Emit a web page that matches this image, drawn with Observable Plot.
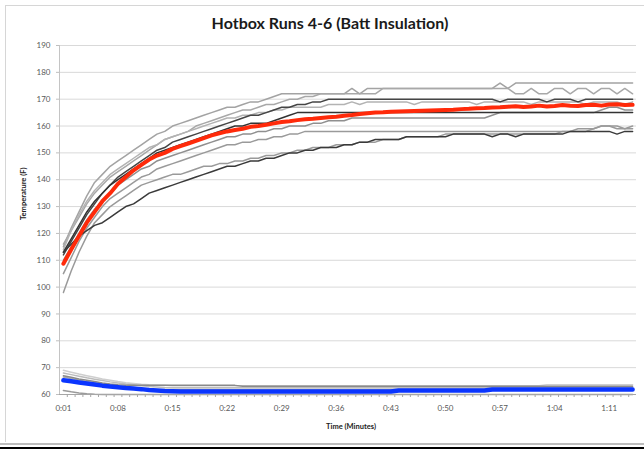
<!DOCTYPE html>
<html><head><meta charset="utf-8">
<script src="https://cdn.jsdelivr.net/npm/d3@7"></script>
<script src="https://cdn.jsdelivr.net/npm/@observablehq/plot@0.6"></script>
<style>
html,body{margin:0;padding:0;background:#fff;overflow:hidden;width:644px;height:449px;}
#wrap{position:relative;width:644px;height:449px;overflow:hidden;font-family:Lato,"Open Sans",sans-serif;}
#ftop{position:absolute;left:5px;top:5px;width:639px;height:1px;background:#d6d6d6;}
#fleft{position:absolute;left:5px;top:5px;width:1px;height:437px;background:#d6d6d6;}
#title{position:absolute;left:0;width:660px;top:13px;text-align:center;font-weight:bold;font-size:16px;color:#1a1a1a;font-family:Lato,"Open Sans",sans-serif;}
#rule1{position:absolute;left:0;top:443px;width:644px;height:2px;background:#bdbdbd}
#rule2{position:absolute;left:0;top:447px;width:644px;height:2px;background:#000}
#chart{position:absolute;left:0;top:0;width:644px;height:449px;overflow:hidden;}
#chart svg{display:block;}
#cover{position:absolute;left:637px;top:7px;width:7px;height:435px;background:#fff;z-index:5;}
</style>
</head><body>
<div id="wrap"><div id="ftop"></div><div id="fleft"></div><div id="chart"></div><div id="title">Hotbox Runs 4-6 (Batt Insulation)</div><div id="rule1"></div><div id="rule2"></div><div id="cover"></div></div>
<script>
// categories: minutes 1..74
const minutes = [1,2,3,4,5,6,7,8,9,10,11,12,13,14,15,16,17,18,19,20,21,22,23,24,25,26,27,28,29,30,31,32,33,34,35,36,37,38,39,40,41,42,43,44,45,46,47,48,49,50,51,52,53,54,55,56,57,58,59,60,61,62,63,64,65,66,67,68,69,70,71,72,73,74];
const xTickMinutes = [1,8,15,22,29,36,43,50,57,64,71];
const xTickLabels = ["0:01","0:08","0:15","0:22","0:29","0:36","0:43","0:50","0:57","1:04","1:11"];
const yTicks = [60,70,80,90,100,110,120,130,140,150,160,170,180,190];

// interior sensors (runs 4-6)
const up1 = [115,122,128,134,139,142,145,147,149,151, 153,155,157,158,160,161,162,163,164,165, 166,167,167,168,169,169,170,171,172,172, 172,172,172,172,172,172,172,174,172,174, 174,174,174,174,174,174,174,174,174,174, 174,174,174,174,174,174,176,174,176,176, 176,176,176,176,176,176,176,176,176,176, 176,176,176,176];
const up2 = [116,121,126,131,135,138,141,143,145,147, 149,151,153,155,156,157,158,160,161,162, 163,164,165,166,166,167,168,168,169,170, 170,171,171,172,172,172,172,172,172,172, 172,174,174,174,174,174,174,174,174,174, 174,174,174,174,174,174,174,174,172,172, 174,172,172,174,174,172,174,174,172,174, 174,172,174,172];
const up3 = [112,117,122,127,131,135,138,141,143,145, 147,149,151,152,154,155,156,157,158,159, 160,161,162,163,164,164,165,166,167,167, 168,168,169,169,170,170,170,170,170,170, 170,170,170,170,170,170,170,170,170,170, 170,170,170,170,170,170,169,170,170,170, 170,170,169,170,170,170,169,170,170,170, 170,170,170,170];
const up4 = [114,121,127,132,136,139,142,144,146,148, 150,152,153,155,156,157,158,159,160,161, 162,163,163,164,164,165,165,166,166,167, 167,167,167,167,168,168,168,169,168,169, 169,169,169,169,169,168,169,169,169,169, 169,169,169,168,169,169,169,169,169,169, 168,169,169,169,169,169,169,168,169,169, 169,169,168,169];
const up5 = [113,118,123,128,132,135,138,140,142,144, 146,148,150,151,152,153,154,155,156,157, 158,159,160,160,161,161,161,162,163,164, 165,165,165,165,165,165,165,165,165,165, 165,165,165,165,165,165,165,165,165,165, 165,165,165,165,165,165,165,165,165,165, 165,165,165,165,165,165,165,165,165,165, 165,165,165,165];
const up6 = [110,115,120,125,129,132,135,138,140,142, 144,145,147,148,149,150,151,152,153,154, 155,156,156,157,157,158,158,159,159,160, 160,160,161,161,162,162,162,163,163,163, 163,163,163,163,163,163,163,163,163,163, 163,163,163,163,163,164,165,165,165,165, 165,165,165,165,165,165,165,165,165,166, 167,167,166,166];
const up7 = [105,111,117,122,126,130,133,135,137,139, 141,142,144,145,146,147,148,149,150,151, 152,153,153,154,154,155,155,156,156,157, 157,158,158,158,158,158,158,158,158,158, 158,158,158,158,158,158,158,158,158,158, 158,158,158,158,158,158,158,158,158,158, 158,158,158,158,158,158,158,158,159,160, 160,160,159,160];
const up8 = [113,116,119,121,123,124,126,128,130,131, 133,135,136,137,138,139,140,141,142,143, 144,145,145,146,147,147,148,148,149,150, 150,151,151,152,152,152,153,153,154,154, 155,155,155,155,156,156,156,156,156,156, 157,157,157,157,157,156,157,157,156,157, 157,157,157,157,157,158,158,158,158,158, 158,157,158,158];
const up9 = [98,106,113,119,124,127,130,132,134,136, 138,139,140,141,142,142,143,144,145,145, 146,146,147,147,148,148,149,149,150,150, 151,151,152,152,152,153,153,153,154,154, 154,155,155,155,156,156,156,156,156,157, 157,157,157,157,157,157,157,157,157,157, 157,157,157,157,158,158,159,159,159,160, 160,159,159,159];
const interiorAvg = [108.7,114,119,124,128,132,135,138.5,141,143.5, 145.5,147.5,149,150,151.5,152.5,153.5,154.5,155.5,156.5, 157.3,158,158.5,159,159.7,160,160.5,161,161.5,161.8, 162.2,162.5,162.7,163,163.3,163.5,163.8,164.1,164.5,164.8, 165,165.1,165.3,165.4,165.5,165.6,165.7,165.8,165.9,166, 166.1,166.3,166.4,166.6,166.7,166.9,167,167.2,167.4,167.1, 167.3,167.6,167.3,167.5,167.8,167.6,167.5,167.8,167.9,167.6, 168,168.1,167.8,167.9];

// ambient sensors
const amb1 = [69,68.3,67.6,67,66.4,65.8,65.3,64.8,64.4,64.1, 63.8,63.6,63.5,63.4,63.3,63.3,63.3,63.3,63.3,63.3, 63.3,63.3,63.3,63.3,63.3,63.3,63.3,63.3,63.3,63.3, 63.3,63.3,63.3,63.3,63.3,63.3,63.3,63.3,63.3,63.3, 63.3,63.3,63.3,63.3,63.3,63.3,63.3,63.3,63.3,63.3, 63.3,63.3,63.3,63.3,63.3,63.3,63.3,63.3,63.3,63.3, 63.3,63.3,63.6,63.6,63.6,63.6,63.6,63.6,63.6,63.6, 63.6,63.6,63.6,63.6];
const amb2 = [68,67.4,66.8,66.2,65.7,65.2,64.7,64.3,63.9,63.6, 63.3,63,62.8,62.6,62.5,62.5,62.5,62.5,62.5,62.5, 62.5,62.5,62.5,62.5,62.5,62.5,62.5,62.5,62.5,62.5, 62.5,62.5,62.5,62.5,62.5,62.5,62.5,62.5,62.5,62.5, 62.5,62.5,62.5,62.5,62.5,62.5,62.5,62.5,62.5,62.5, 62.5,62.5,62.5,62.5,62.5,62.5,62.5,62.5,62.5,62.5, 62.5,62.5,62.5,62.5,62.5,62.5,62.5,62.5,62.5,62.5, 62.5,62.5,62.5,62.5];
const amb3 = [67,66.4,65.8,65.3,64.8,64.3,63.9,63.6,63.4,63.4, 63.4,63.4,63.4,63.4,63.4,63.4,63.4,63.4,63.4,63.4, 63.4,63.4,63.4,63.1,63.1,63.1,63.1,63.1,63.1,63.1, 63.1,63.1,63.1,63.1,63.1,63.1,63.1,63.1,63.1,63.1, 63.1,63.1,63.1,63.1,63.1,63.1,63.1,63.1,63.1,63.1, 63.1,63.1,63.1,63.1,63.1,63.1,63.1,63.1,63.1,63.1, 63.1,63.1,63.1,63.1,63.1,63.1,63.1,63.1,63.1,63.1, 63.1,63.1,63.1,63.1];
const amb4 = [66.5,66,65.4,64.8,64.3,63.8,63.3,62.9,62.6,62.3, 62.1,62,61.9,61.9,61.9,61.9,61.9,61.9,61.9,61.9, 61.9,61.9,61.9,61.9,61.9,61.9,61.9,61.9,61.9,61.9, 61.9,61.9,61.9,61.9,61.9,61.9,61.9,61.9,61.9,61.9, 61.9,61.9,61.9,61.9,61.9,61.9,61.9,61.9,61.9,61.9, 61.9,61.9,61.9,61.9,61.9,61.9,61.9,61.9,61.9,61.9, 61.9,61.9,61.9,61.9,61.9,61.9,61.9,61.9,61.9,61.9, 61.9,61.9,61.9,61.9];
const amb5 = [61.5,61,60.6,60.3,60.1,60,60,60,60,60, 60,60,60,60,60,60,60,60,60,60, 60,60,60,60,60,60,60,60,60,60, 60,60,60,60,60,60,60,60,60,60, 60,60,60,60,60,60,60,60,60,60, 60,60,60,60,60,60,60,60,60,60, 60,60,60,60,60,60,60,60,60,60, 60,60,60,60];
const ambientAvg = [65.3,64.9,64.5,64.1,63.7,63.3,63,62.7,62.4,62.2, 62,61.7,61.5,61.3,61.2,61.1,61.1,61.1,61.1,61.1, 61.1,61.1,61.1,61.1,61.1,61.1,61.1,61.1,61.1,61.1, 61.1,61.1,61.1,61.1,61.1,61.1,61.1,61.1,61.1,61.1, 61.1,61.1,61.1,61.5,61.5,61.5,61.5,61.5,61.5,61.5, 61.5,61.5,61.5,61.5,61.5,61.9,61.9,61.9,61.9,61.9, 61.9,61.9,61.9,61.9,61.9,61.9,61.9,61.9,61.9,61.9, 61.9,61.9,61.9,61.9];

const series = [
  {v: amb1, stroke: "#cfcfcf", w: 1.5},
  {v: amb2, stroke: "#bcbcbc", w: 1.5},
  {v: amb4, stroke: "#a8a8a8", w: 1.5},
  {v: amb3, stroke: "#8a8a8a", w: 1.5},
  {v: amb5, stroke: "#9a9a9a", w: 1.5},
  {v: up1, stroke: "#a3a3a3", w: 1.5},
  {v: up2, stroke: "#a8a8a8", w: 1.5},
  {v: up4, stroke: "#b3b3b3", w: 1.5},
  {v: up6, stroke: "#8f8f8f", w: 1.5},
  {v: up7, stroke: "#9a9a9a", w: 1.5},
  {v: up9, stroke: "#9a9a9a", w: 1.5},
  {v: up3, stroke: "#454545", w: 1.5},
  {v: up5, stroke: "#333333", w: 1.5},
  {v: up8, stroke: "#3a3a3a", w: 1.5},
  {v: ambientAvg, stroke: "#0a35ff", w: 4.5},
  {v: interiorAvg, stroke: "#ff2a0a", w: 4}
];

const boundaries = minutes.slice(0, 73).map(m => m + 0.5);
const labelMap = new Map(xTickMinutes.map((m, i) => [m, xTickLabels[i]]));

const chart = Plot.plot({
  width: 644,
  height: 449,
  marginLeft: 59,
  marginRight: 8,
  marginTop: 45,
  marginBottom: 55,
  style: {fontFamily: "Lato, 'Open Sans', sans-serif", fontSize: "8px", background: "transparent", color: "#595959"},
  x: {domain: [0.5, 74.5]},
  y: {domain: [60, 190]},
  marks: [
    Plot.gridY(yTicks, {stroke: "#d9d9d9", strokeOpacity: 1}),
    ...series.map(s => Plot.line(s.v, {x: (d, i) => minutes[i], y: d => d, stroke: s.stroke, strokeWidth: s.w, strokeLinejoin: "round"})),
    Plot.ruleX([0.5], {stroke: "#c4c4c4"}),
    Plot.ruleY([60], {stroke: "#a6a6a6"}),
    Plot.axisY(yTicks, {tickSize: 3, tickPadding: 6, stroke: "#bfbfbf", fill: "#595959", label: null, fontSize: 8}),
    Plot.axisX(boundaries, {tickSize: 3, stroke: "#a6a6a6", tickFormat: () => "", label: null}),
    Plot.axisX(xTickMinutes, {tickSize: 0, tickPadding: 11, tickFormat: d => labelMap.get(d), fill: "#595959", label: null, fontSize: 8}),
    Plot.text(["Temperature (F)"], {text: d => d, frameAnchor: "left", dx: -36, rotate: -90, fontWeight: "bold", fontSize: 7.5, fill: "#222"}),
    Plot.text(["Time (Minutes)"], {text: d => d, frameAnchor: "bottom", dy: 34, dx: 3, fontWeight: "bold", fontSize: 7.5, fill: "#222"})
  ]
});
document.getElementById("chart").appendChild(chart);
</script>
</body></html>
